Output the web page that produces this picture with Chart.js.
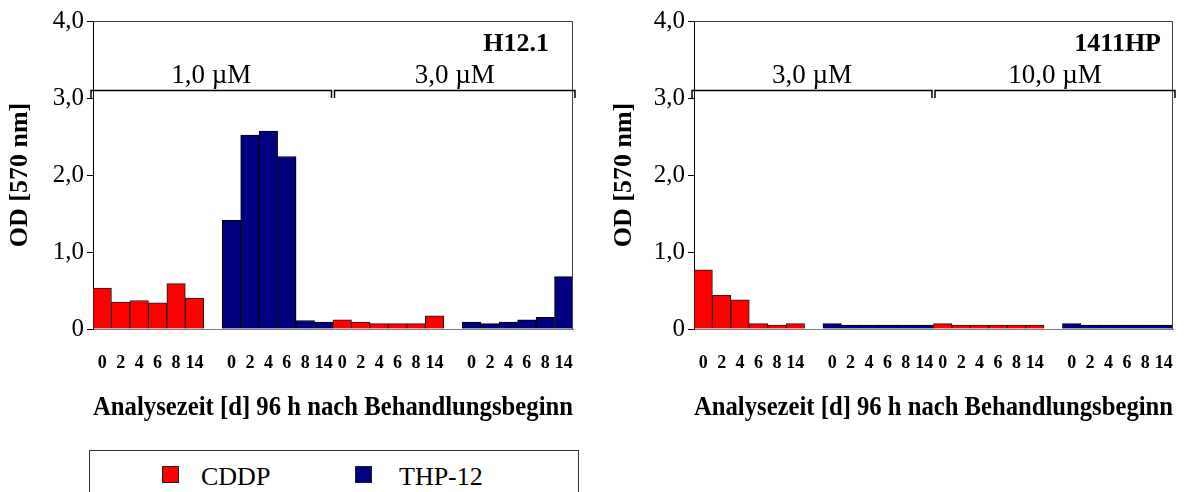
<!DOCTYPE html>
<html>
<head>
<meta charset="utf-8">
<script src="https://cdn.jsdelivr.net/npm/chart.js@4"></script>
<style>
  body { margin: 0; background: #fff; width: 1198px; height: 492px; overflow: hidden; position: relative; font-family: 'Liberation Serif', 'Times New Roman', serif; }
  canvas { position: absolute; top: 0; }
  #chartLinks { left: 0; }
  #chartRechts { left: 600px; }
  .legende { position: absolute; left: 89px; top: 450px; width: 488px; height: 80px; border: 1px solid #333; }
  .legende span { position: absolute; font-size: 26px; line-height: 26px; top: 13px; color: #000; }
  .legende i { position: absolute; top: 15px; width: 15px; height: 15px; border: 1px solid #222; }
</style>
</head>
<body>
<canvas id="chartLinks" width="600" height="440"></canvas>
<canvas id="chartRechts" width="598" height="440"></canvas>
<div class="legende">
  <i style="left:72px; background:#ff0000"></i><span style="left:111px">CDDP</span>
  <i style="left:265px; background:#000080"></i><span style="left:309px">THP-12</span>
</div>
<script>
// Analysezeitpunkte [d]
const tage = ['0', '2', '4', '6', '8', '14'];
const yTickLabels = ['0', '1,0', '2,0', '3,0', '4,0'];
const serien = ['CDDP', 'THP-12'];

// H12.1
const h12Konz = ['1,0 µM', '3,0 µM'];
const h12CddpNieder = [0.53, 0.35, 0.37, 0.34, 0.59, 0.40];
const h12ThpNieder = [1.41, 2.52, 2.57, 2.24, 0.11, 0.09];
const h12CddpHoch = [0.12, 0.09, 0.07, 0.07, 0.07, 0.17];
const h12ThpHoch = [0.09, 0.07, 0.09, 0.12, 0.15, 0.68];

// 1411HP
const hpKonz = ['3,0 µM', '10,0 µM'];
const hpCddpNieder = [0.77, 0.44, 0.38, 0.07, 0.05, 0.07];
const hpThpNieder = [0.07, 0.05, 0.05, 0.05, 0.05, 0.05];
const hpCddpHoch = [0.07, 0.05, 0.05, 0.05, 0.05, 0.05];
const hpThpHoch = [0.07, 0.05, 0.05, 0.05, 0.05, 0.05];

const schrift = "'Liberation Serif', 'Times New Roman', serif";
const leer = Array(6).fill(null);

// Reihenfolge: CDDP, Lücke, THP-12, CDDP, Lücke, THP-12
const labels = [...tage, '', ...tage, ...tage, '', ...tage];

const panelDeko = {
    id: 'panelDeko',
    afterDraw(chart, args, opts) {
        const { ctx, chartArea: a, scales: { x, y } } = chart;
        ctx.save();
        // Rahmen oben und rechts
        ctx.strokeStyle = '#404040';
        ctx.lineWidth = 1;
        ctx.beginPath();
        ctx.moveTo(a.left, a.top + 0.5);
        ctx.lineTo(a.right - 0.5, a.top + 0.5);
        ctx.lineTo(a.right - 0.5, a.bottom);
        ctx.stroke();

        // Klammern über den Konzentrationen
        const halb = (x.getPixelForValue(1) - x.getPixelForValue(0)) / 2;
        const mitte = (x.getPixelForValue(12) + x.getPixelForValue(13)) / 2;
        const bereiche = [
            [x.getPixelForValue(0) - halb - 2, mitte - 1.5],
            [mitte + 1.5, x.getPixelForValue(25) + halb + 2]
        ];
        const yOben = Math.round(y.getPixelForValue(3.1)) + 0.5;
        const yUnten = y.getPixelForValue(3.0);
        ctx.strokeStyle = '#000';
        ctx.lineWidth = 1.5;
        ctx.fillStyle = '#000';
        ctx.font = `27px ${schrift}`;
        ctx.textAlign = 'center';
        ctx.textBaseline = 'alphabetic';
        bereiche.forEach(([l, r], i) => {
            ctx.beginPath();
            ctx.moveTo(l, yUnten);
            ctx.lineTo(l, yOben);
            ctx.lineTo(r, yOben);
            ctx.lineTo(r, yUnten);
            ctx.stroke();
            ctx.fillText(opts.konz[i], (l + r) / 2, yOben - 8);
        });

        // Zelllinie
        ctx.font = `bold 26px ${schrift}`;
        ctx.textAlign = 'right';
        ctx.fillText(opts.zelllinie, a.right - opts.rechts, a.top + 30);
        ctx.restore();
    }
};

function zeichnePanel(id, zelllinie, konz, cddpN, thpN, cddpH, thpH, yBreite, titelAbstand, rechts, padRechts) {
    const cddpDaten = [...cddpN, null, ...leer, ...cddpH, null, ...leer];
    const thpDaten = [...leer, null, ...thpN, ...leer, null, ...thpH];

    new Chart(document.getElementById(id), {
        type: 'bar',
        data: {
            labels: labels,
            datasets: [
                {
                    label: serien[0],
                    data: cddpDaten,
                    backgroundColor: '#ff0000',
                    borderColor: '#1a1a1a',
                    borderWidth: 1,
                    grouped: false,
                    barPercentage: 1,
                    categoryPercentage: 1
                },
                {
                    label: serien[1],
                    data: thpDaten,
                    backgroundColor: '#000080',
                    borderColor: '#000000',
                    borderWidth: 1,
                    grouped: false,
                    barPercentage: 1,
                    categoryPercentage: 1
                }
            ]
        },
        options: {
            responsive: false,
            animation: false,
            layout: { padding: { top: 21, right: padRechts, bottom: 0, left: 0 } },
            plugins: {
                legend: { display: false },
                tooltip: { enabled: false },
                panelDeko: { zelllinie: zelllinie, konz: konz, rechts: rechts }
            },
            scales: {
                x: {
                    offset: true,
                    grid: { display: true, drawOnChartArea: false, drawTicks: false },
                    border: { display: true, color: '#808080', width: 1 },
                    ticks: {
                        autoSkip: false,
                        maxRotation: 0,
                        padding: 24,
                        color: '#000',
                        font: { family: schrift, size: 18, weight: 'bold' }
                    },
                    title: {
                        display: true,
                        text: 'Analysezeit [d] 96 h nach Behandlungsbeginn',
                        color: '#000',
                        font: { family: schrift, size: 28, weight: 'bold' },
                        padding: { top: 0, bottom: 15 }
                    },
                    afterFit: (s) => { s.height = 111; }
                },
                y: {
                    min: 0,
                    max: 4,
                    ticks: {
                        stepSize: 1,
                        padding: 3,
                        color: '#000',
                        font: { family: schrift, size: 25 },
                        callback: (v) => yTickLabels[v]
                    },
                    grid: { drawOnChartArea: false, drawTicks: true, tickLength: 6, color: '#000' },
                    border: { display: true, color: '#000', width: 1 },
                    title: {
                        display: true,
                        text: 'OD [570 nm]',
                        color: '#000',
                        font: { family: schrift, size: 26, weight: 'bold' },
                        padding: { top: titelAbstand, bottom: 0 }
                    },
                    afterFit: (s) => { s.width = yBreite; }
                }
            }
        },
        plugins: [panelDeko]
    });
}

zeichnePanel('chartLinks', 'H12.1', h12Konz, h12CddpNieder, h12ThpNieder, h12CddpHoch, h12ThpHoch, 93, 5, 24, 27);
zeichnePanel('chartRechts', '1411HP', hpKonz, hpCddpNieder, hpThpNieder, hpCddpHoch, hpThpHoch, 94, 9, 12, 25);
</script>
</body>
</html>
